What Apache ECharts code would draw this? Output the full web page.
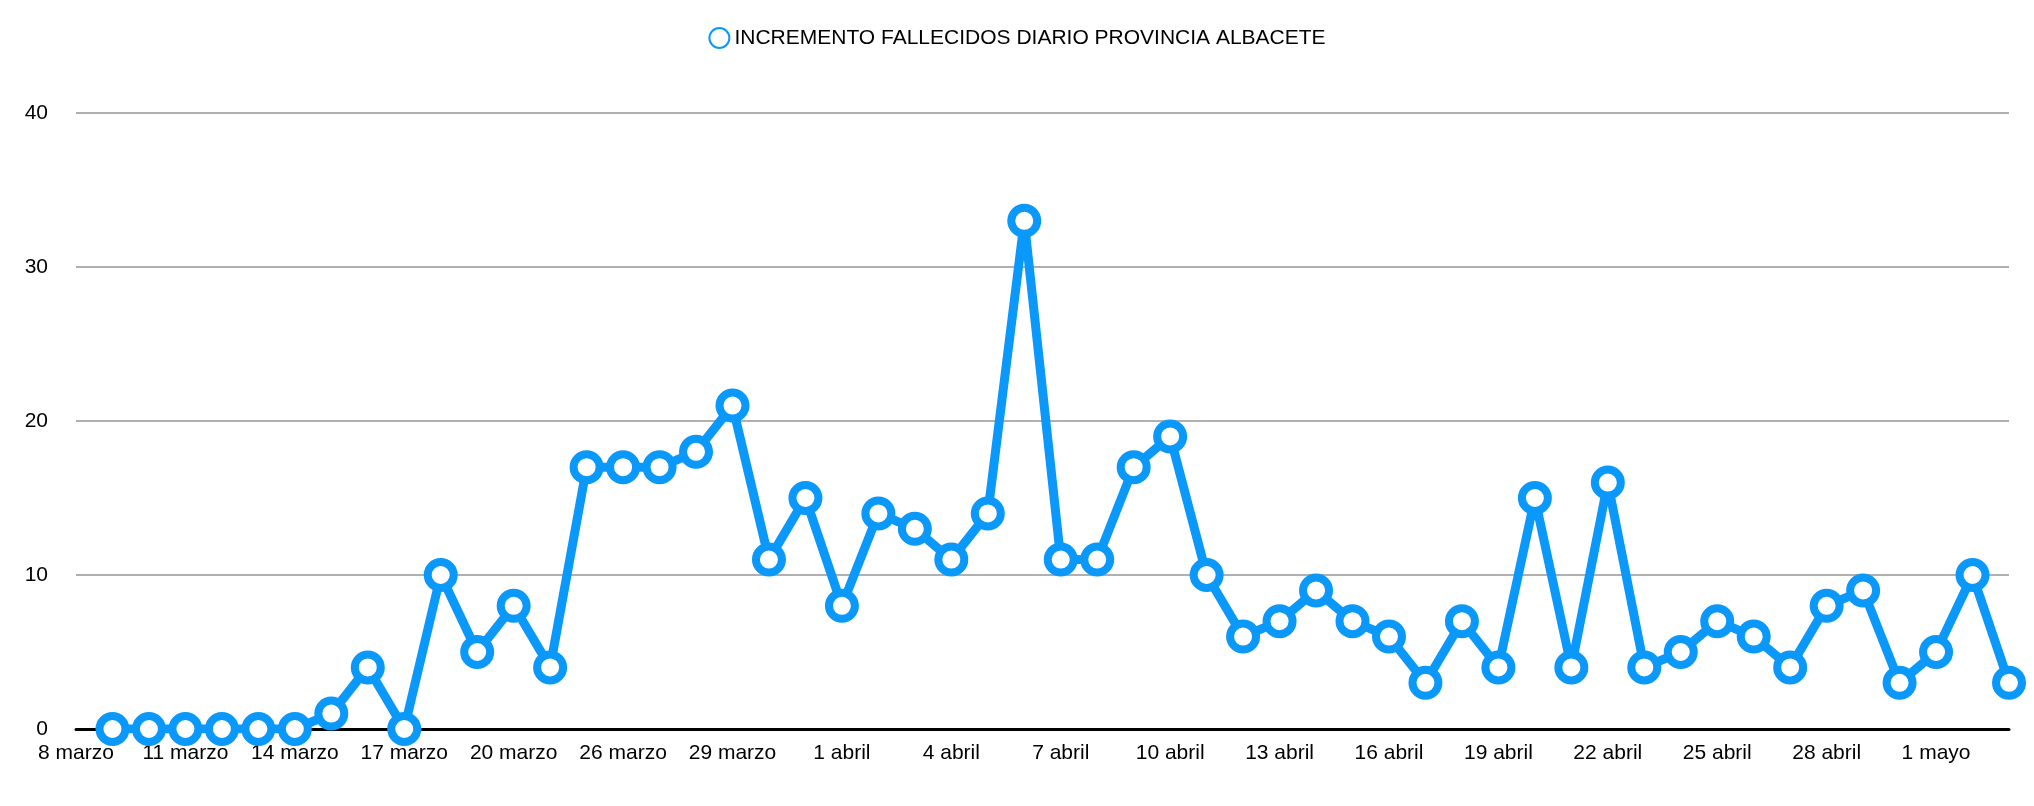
<!DOCTYPE html>
<html lang="en">
<head>
    <meta charset="UTF-8">
    <title>Fallecidos Albacete</title>
    <script src="https://cdn.jsdelivr.net/npm/echarts@6/dist/echarts.min.js"></script>
    <style>html,body{margin:0;background:#fff}#graph{width:2034px;height:806px}</style>
</head>
<body>
<div id="graph"></div>
<script>
    var dates = ['8 marzo','9 marzo','10 marzo','11 marzo','12 marzo','13 marzo','14 marzo','15 marzo','16 marzo',
        '17 marzo','18 marzo','19 marzo','20 marzo','21 marzo','25 marzo','26 marzo','27 marzo','28 marzo',
        '29 marzo','30 marzo','31 marzo','1 abril','2 abril','3 abril','4 abril','5 abril','6 abril','7 abril',
        '8 abril','9 abril','10 abril','11 abril','12 abril','13 abril','14 abril','15 abril','16 abril',
        '17 abril','18 abril','19 abril','20 abril','21 abril','22 abril','23 abril','24 abril','25 abril',
        '26 abril','27 abril','28 abril','29 abril','30 abril','1 mayo','2 mayo','3 mayo'];
    var deaths = [null,0,0,0,0,0,0,1,4,0,10,5,8,4,17,17,17,18,21,11,15,8,14,13,11,14,33,11,11,17,19,
        10,6,7,9,7,6,3,7,4,15,4,16,4,5,7,6,4,8,9,3,5,10,3];
    var seriesName = 'INCREMENTO FALLECIDOS DIARIO PROVINCIA ALBACETE';
    var blue = '#0a99fb';

    var myChart = echarts.init(document.getElementById('graph'));
    var option = {
        animation: false,
        textStyle: {fontFamily: 'Liberation Sans, Arial, sans-serif'},
        legend: {
            top: 22, left: 'center', itemWidth: 20, itemHeight: 20, itemGap: 10,
            textStyle: {fontSize: 21, color: '#000'},
            data: [{name: seriesName, icon: 'circle'}]
        },
        grid: {left: 76, right: 25, top: 113, bottom: 77},
        xAxis: {
            type: 'category', data: dates, boundaryGap: false,
            axisTick: {show: false},
            axisLine: {lineStyle: {color: '#000', width: 3}},
            axisLabel: {interval: 2, fontSize: 21, color: '#000', margin: 14}
        },
        yAxis: {
            type: 'value', min: 0, max: 40, interval: 10,
            axisLabel: {fontSize: 21, color: '#000', margin: 28},
            splitLine: {lineStyle: {color: '#b0b0b0', width: 2}},
            axisLine: {show: false}, axisTick: {show: false}
        },
        series: [
            {
                name: seriesName, type: 'line',
                data: deaths, connectNulls: false,
                symbol: 'circle', symbolSize: 26, showAllSymbol: true,
                lineStyle: {color: blue, width: 9},
                itemStyle: {color: '#fff', borderColor: blue, borderWidth: 8},
                z: 5
            }
        ]
    };
    myChart.setOption(option);
</script>
</body>
</html>
